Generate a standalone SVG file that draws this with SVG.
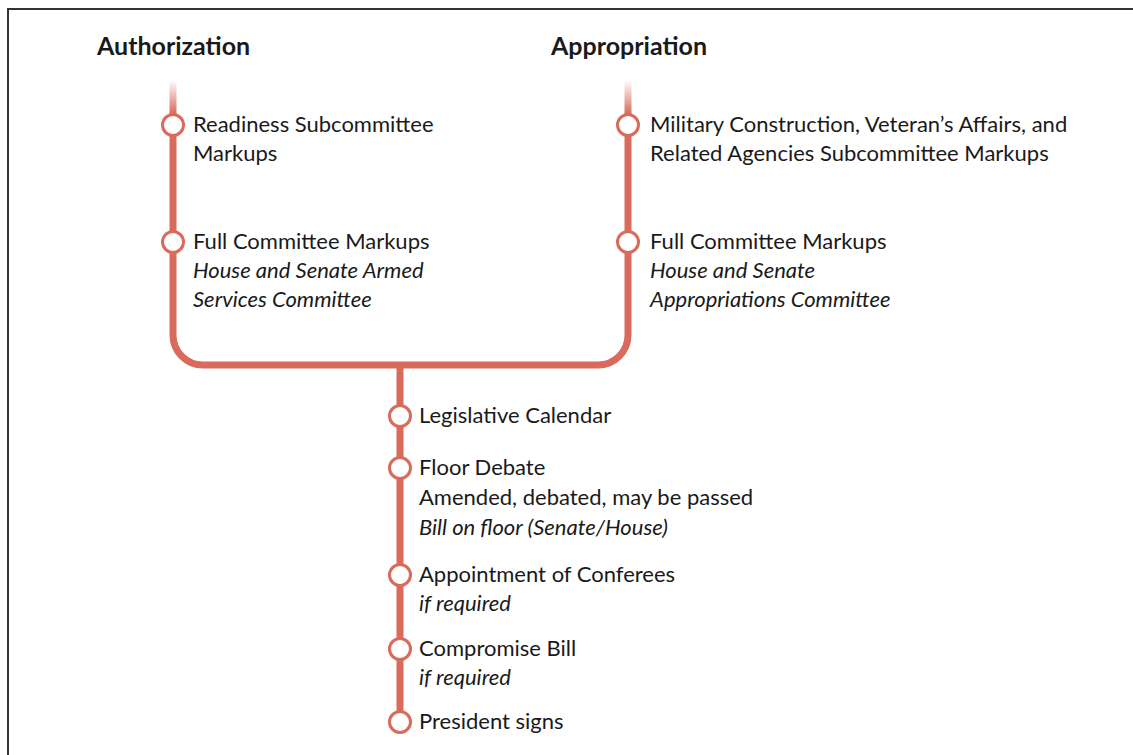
<svg xmlns="http://www.w3.org/2000/svg" width="1133" height="755" viewBox="0 0 1133 755">
  <defs>
    <linearGradient id="fadeL" gradientUnits="userSpaceOnUse" x1="0" y1="80" x2="0" y2="114">
      <stop offset="0" stop-color="#d96b5c" stop-opacity="0"/>
      <stop offset="1" stop-color="#d96b5c" stop-opacity="1"/>
    </linearGradient>
    <style>
      .line{fill:none;stroke:#d96b5c;stroke-width:7}
      .dot{fill:#fff;stroke:#d96b5c;stroke-width:3}
      text{font-family:Lato,"Liberation Sans",sans-serif;font-size:22px;fill:#1a1a1a}
      .h{font-weight:bold;font-size:25px}
      .i{font-style:italic}
    </style>
  </defs>
  <rect x="0" y="0" width="1133" height="755" fill="#fff"/>
  <path d="M8 760 V9 H1140" fill="none" stroke="#333" stroke-width="2"/>

  <g id="connectors">
    <rect x="169.5" y="80" width="7" height="34" fill="url(#fadeL)"/>
    <rect x="624.5" y="80" width="7" height="34" fill="url(#fadeL)"/>
    <path class="line" d="M173 113 V335 A30 30 0 0 0 203 365 H598 A30 30 0 0 0 628 335 V113"/>
    <path class="line" d="M400 365 V722"/>
  </g>

  <g id="header-authorization"><text class="h" x="97" y="55">Authorization</text></g>
  <g id="header-appropriation"><text class="h" x="551" y="55">Appropriation</text></g>

  <g id="readiness">
    <circle class="dot" cx="173" cy="125" r="10.5"/>
    <text x="193" y="132">Readiness Subcommittee</text>
    <text x="193" y="161">Markups</text>
  </g>
  <g id="full-committee-auth">
    <circle class="dot" cx="173" cy="242" r="10.5"/>
    <text x="193" y="249">Full Committee Markups</text>
    <text class="i" x="193" y="278">House and Senate Armed</text>
    <text class="i" x="193" y="307">Services Committee</text>
  </g>
  <g id="milcon">
    <circle class="dot" cx="628" cy="125" r="10.5"/>
    <text x="650" y="132">Military Construction, Veteran’s Affairs, and</text>
    <text x="650" y="161">Related Agencies Subcommittee Markups</text>
  </g>
  <g id="full-committee-approp">
    <circle class="dot" cx="628" cy="242" r="10.5"/>
    <text x="650" y="249">Full Committee Markups</text>
    <text class="i" x="650" y="278">House and Senate</text>
    <text class="i" x="650" y="307">Appropriations Committee</text>
  </g>
  <g id="legislative-calendar">
    <circle class="dot" cx="400" cy="416" r="10.5"/>
    <text x="419" y="423">Legislative Calendar</text>
  </g>
  <g id="floor-debate">
    <circle class="dot" cx="400" cy="468" r="10.5"/>
    <text x="419" y="475">Floor Debate</text>
    <text x="419" y="505">Amended, debated, may be passed</text>
    <text class="i" x="419" y="535">Bill on floor (Senate/House)</text>
  </g>
  <g id="conferees">
    <circle class="dot" cx="400" cy="575" r="10.5"/>
    <text x="419" y="582">Appointment of Conferees</text>
    <text class="i" x="419" y="611">if required</text>
  </g>
  <g id="compromise">
    <circle class="dot" cx="400" cy="649" r="10.5"/>
    <text x="419" y="656">Compromise Bill</text>
    <text class="i" x="419" y="685">if required</text>
  </g>
  <g id="president">
    <circle class="dot" cx="400" cy="722" r="10.5"/>
    <text x="419" y="729">President signs</text>
  </g>
</svg>
